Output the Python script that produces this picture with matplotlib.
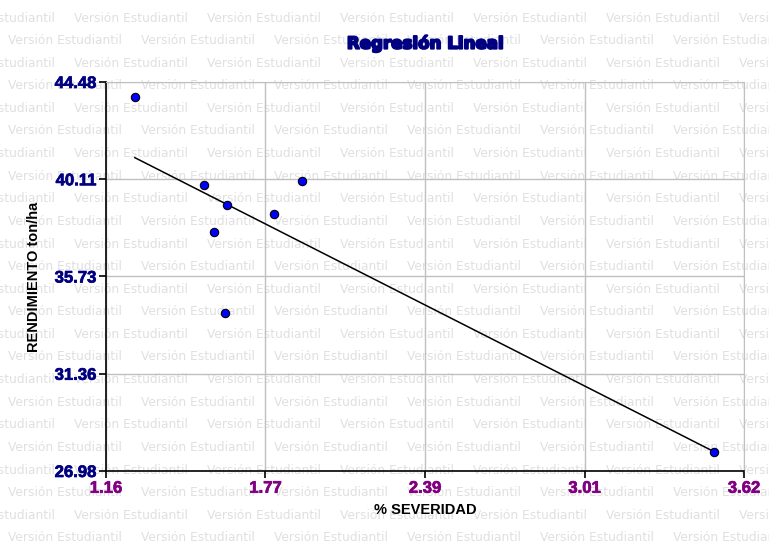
"""
Regresion lineal: rendimiento vs % severidad (Version Estudiantil style)
Saves out.png
"""

import numpy as np
import matplotlib
matplotlib.use('Agg')
import matplotlib.pyplot as plt
import matplotlib.patheffects as pe


# Data
severidad = [1.271, 1.537, 1.628, 1.576, 1.806, 1.914, 1.619, 3.504]
rendimiento = [43.81, 39.86, 38.96, 37.72, 38.54, 40.04, 34.09, 27.84]

x_ticks = [1.16, 1.775, 2.39, 3.005, 3.62]
x_tick_labels = ['1.16', '1.77', '2.39', '3.01', '3.62']
y_ticks = [26.98, 31.355, 35.73, 40.105, 44.48]
y_tick_labels = ['26.98', '31.36', '35.73', '40.11', '44.48']

WATERMARK = 'Versión Estudiantil'
ARIAL = 'Liberation Sans'


def draw_watermark(fig):
    """Repeat the student-version watermark over the whole figure"""
    W, H = 769, 542
    row_step = 22.6
    col_step = 133
    n_rows = int(H / row_step) + 2
    for r in range(n_rows):
        y_px = 18 + r * row_step
        offset = 74 if r % 2 == 0 else 8
        x_px = offset - 2 * col_step
        while x_px < W:
            fig.text(x_px / W, 1 - y_px / H, WATERMARK, fontsize=8.8,
                     color='#e0e0e0', ha='left', va='center', zorder=-5)
            x_px += col_step


fig = plt.figure(figsize=(7.69, 5.42), dpi=100)
fig.patch.set_facecolor('white')
draw_watermark(fig)

ax = fig.add_axes([106 / 769, 1 - 471 / 542, (744 - 106) / 769, (471 - 82) / 542])
ax.set_facecolor('none')

# Regression line over the data range
slope, intercept = np.polyfit(severidad, rendimiento, 1)
x_line = np.array([min(severidad), max(severidad)])
ax.plot(x_line, slope * x_line + intercept, color='black', linewidth=1.1, zorder=3)

ax.plot(severidad, rendimiento, 'o', markersize=6, markerfacecolor='#0000ff',
        markeredgecolor='black', markeredgewidth=0.8, zorder=4, clip_on=False)

ax.set_xlim(x_ticks[0], x_ticks[-1])
ax.set_ylim(y_ticks[0], y_ticks[-1])
ax.set_xticks(x_ticks)
ax.set_xticklabels(x_tick_labels, family=ARIAL, fontweight='bold')
ax.set_yticks(y_ticks)
ax.set_yticklabels(y_tick_labels, family=ARIAL, fontweight='bold')

ax.grid(True, color='#c0c0c0', linewidth=1.0, zorder=1)
ax.set_axisbelow(True)
for side in ['top', 'right']:
    ax.spines[side].set_color('#c0c0c0')
for side in ['left', 'bottom']:
    ax.spines[side].set_color('black')
    ax.spines[side].set_linewidth(1.2)

ax.tick_params(axis='x', direction='out', length=5, width=1.2, pad=2,
               labelsize=12, labelcolor='#800080')
ax.tick_params(axis='y', direction='out', length=5, width=1.2, pad=2,
               labelsize=12, labelcolor='#000080')
# slightly heavier digits, like the original
for lbl in ax.get_xticklabels() + ax.get_yticklabels():
    lbl.set_path_effects([pe.withStroke(linewidth=0.5, foreground=lbl.get_color())])

ax.set_xlabel('% SEVERIDAD', fontsize=10.5, fontweight='bold', family=ARIAL,
              labelpad=5)
ax.set_ylabel('RENDIMIENTO ton/ha', fontsize=10.5, fontweight='bold', family=ARIAL,
              labelpad=10)

title = ax.set_title('Regresión Lineal', fontsize=12, fontweight='bold',
                     color='#000080', pad=24)
title.set_path_effects([pe.withStroke(linewidth=1.4, foreground='#000080')])

fig.savefig('out.png', dpi=100)
